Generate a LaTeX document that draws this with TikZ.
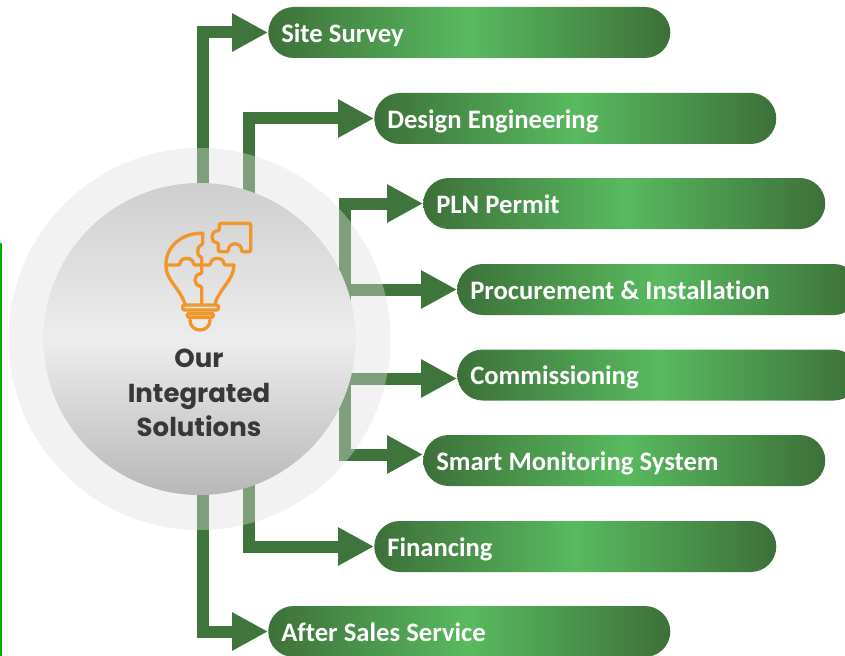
\documentclass[tikz,border=0pt]{standalone}
\usepackage{fontspec}
\setmainfont{Carlito}[Ligatures=NoCommon]
\newfontfamily\hubfont{Poppins}
\usetikzlibrary{arrows.meta,calc}
\pgfdeclarelayer{flow}
\pgfdeclarelayer{ring}
\pgfsetlayers{flow,ring,main}
\definecolor{pilldark}{HTML}{3D7039}
\definecolor{pilllight}{HTML}{58BA5F}
\definecolor{flowgreen}{HTML}{3F743C}
\definecolor{bulborange}{HTML}{F0962B}
\tikzset{
  pill/.style={rounded corners=25.5*.75pt, minimum height=51*.75pt, inner xsep=13*.75pt, inner ysep=0pt,
    minimum width=402*.75pt, text width=376*.75pt, text height=16pt, text depth=1.2pt,
    left color=pilldark, right color=pilldark, middle color=pilllight, anchor=west,
    text=white, align=left, font=\fontsize{20}{22}\selectfont\bfseries,
    execute at begin node={\spaceskip=4.6pt\relax}},
  flowline/.style={flowgreen, line width=9pt, -{Triangle[length=27pt, width=27pt]}},
  bulbline/.style={bulborange, line width=2.5pt, line cap=round, line join=round},
}
\begin{document}
\begin{tikzpicture}[x=.75pt, y=-.75pt]
  \useasboundingbox (0,0) rectangle (845,656);
  % pills
  \node[pill] (siteSurvey) at (268,32.5) {Site Survey};
  \node[pill] (designEng) at (374,118.5) {Design Engineering};
  \node[pill] (plnPermit) at (423,203.5) {PLN Permit};
  \node[pill] (procurement) at (457,289.5) {Procurement \& Installation};
  \node[pill] (commissioning) at (457,375) {Commissioning};
  \node[pill] (smartMon) at (423,460.5) {Smart Monitoring System};
  \node[pill] (financing) at (374,546.5) {Financing};
  \node[pill] (afterSales) at (268,631.5) {After Sales Service};
  % hub
  \node[circle, minimum size=312*.75pt, inner sep=0pt, top color=black!19, bottom color=black!28, middle color=black!7] (core) at (199.5,339) {};
  \begin{pgfonlayer}{ring}
    \node[circle, minimum size=382*.75pt, inner sep=0pt, fill=black!13, opacity=.4] (halo) at (core.center) {};
  \end{pgfonlayer}
  % connectors
  \begin{pgfonlayer}{flow}
    \draw[flowline] (core.center) ++(3.5,0) |- (siteSurvey.west);
    \draw[flowline] (core.center) ++(49.5,0) |- (designEng.west);
    \draw[flowline] (core.center) ++(145.5,0) |- (plnPermit.west);
    \draw[flowline] (core.center |- procurement.west) -- (procurement.west);
    \draw[flowline] (core.center |- commissioning.west) ++(0,3.5) -- ($(commissioning.west)+(0,3.5)$);
    \draw[flowline] (core.center) ++(145.5,0) |- ($(smartMon.west)+(0,-6)$);
    \draw[flowline] (core.center) ++(49.5,0) |- (financing.west);
    \draw[flowline] (core.center) ++(3.5,0) |- (afterSales.west);
  \end{pgfonlayer}
  \node[align=center, text=black!78, font=\hubfont\fontsize{19.5}{26}\selectfont\bfseries] (hubText) at (199,393) {Our\\Integrated\\Solutions};
  % bulb
  \begin{scope}[shift={(130,200)}, x=.25pt, y=-.25pt, bulbline, rounded corners=1pt]
    \draw (218,100) .. controls (150,98) and (108,145) .. (108,195) .. controls (108,240) and (150,265) .. (165,312);
    \draw (312,195) .. controls (312,240) and (268,265) .. (255,312);
    \draw (108,195) -- (150,195) .. controls (150,170) and (190,170) .. (190,195) -- (242,195) .. controls (242,170) and (282,170) .. (282,195) -- (312,195);
    \draw (218,100) -- (218,135) .. controls (200,135) and (200,170) .. (215,170) -- (215,222) .. controls (190,222) and (190,258) .. (215,258) -- (215,312);
    \draw (158,315) -- (265,315) -- (265,330) -- (158,330) -- cycle;
    \draw (172,340) -- (250,340) -- (250,352) -- (172,352) -- cycle;
    \draw (180,360) .. controls (180,400) and (240,400) .. (240,360);
    \draw (268,70) -- (362,70) -- (362,155) -- (335,155) .. controls (335,125) and (295,125) .. (295,155) -- (265,155) -- (265,128) .. controls (240,128) and (240,92) .. (268,92) -- cycle;
  \end{scope}
  % left edge rule
  \draw[green!70!black, line width=1.5pt] (1,243) -- (1,656);
\end{tikzpicture}
\end{document}
